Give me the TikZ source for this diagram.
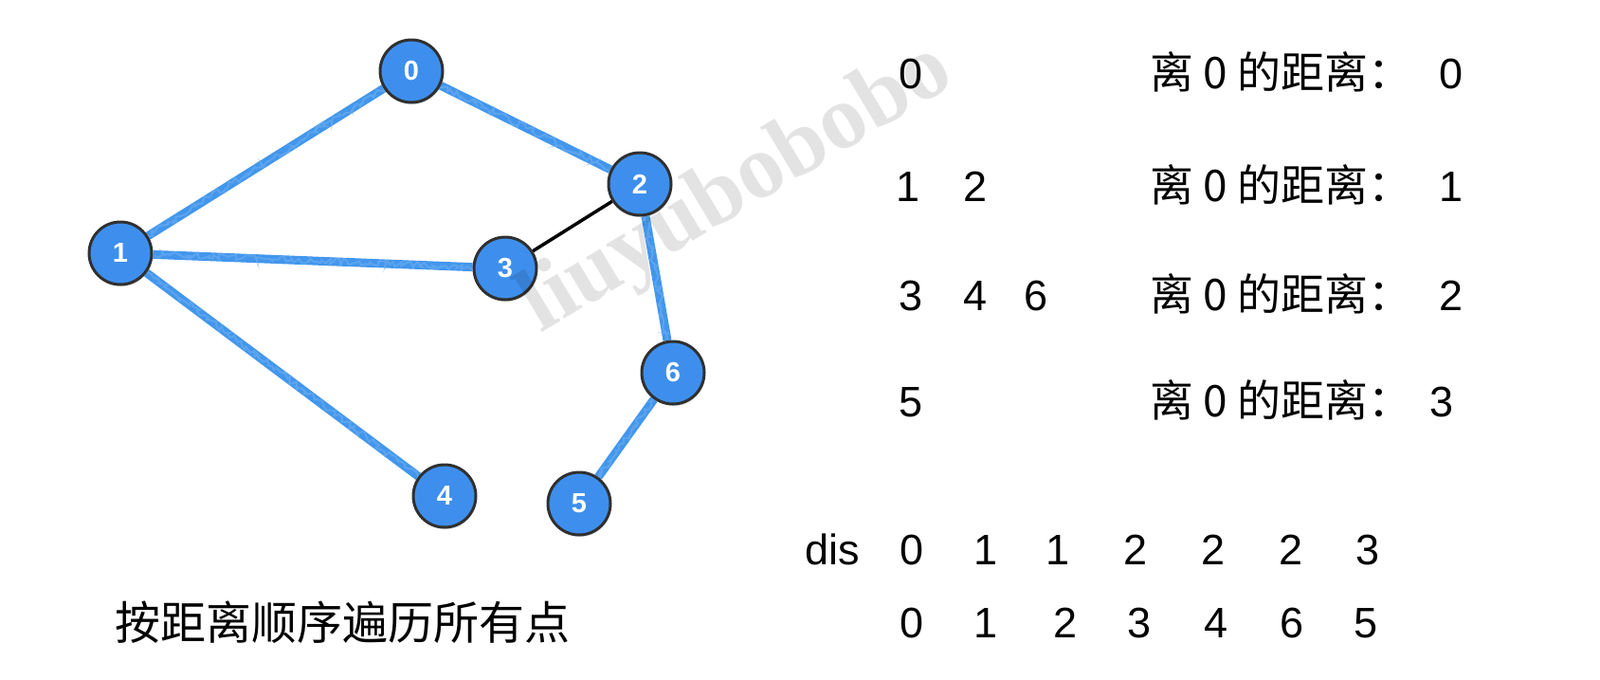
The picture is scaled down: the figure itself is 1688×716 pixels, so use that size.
\documentclass[tikz,border=0pt]{standalone}
\usepackage{fontspec}
\setmainfont{Liberation Sans}
\newfontfamily\cjk{Noto Sans CJK SC}
\newfontfamily\wmfont{Liberation Serif}
\usetikzlibrary{shadows,backgrounds,decorations.pathmorphing}

\definecolor{nodeblue}{RGB}{62,143,237}
\definecolor{edgeblue}{RGB}{66,150,236}
\definecolor{rimgray}{RGB}{48,48,48}

\tikzset{
  vert/.style={circle, minimum size=66pt, inner sep=0pt, fill=nodeblue, draw=rimgray,
    line width=3pt, text=white, font=\fontsize{29}{30}\selectfont\bfseries,
    drop shadow={opacity=0.3, shadow xshift=1pt, shadow yshift=-2pt}},
  tree/.style={draw=edgeblue, line width=9pt},
  treegrain/.style={draw=edgeblue!75!white, line width=2pt, draw opacity=0.55,
    decorate, decoration={random steps, segment length=3pt, amplitude=3.5pt}},
  plainedge/.style={draw=black, line width=3.5pt},
  num/.style={font=\fontsize{45}{50}\selectfont, inner sep=0pt, anchor=base},
  cjkrow/.style={font=\cjk\fontsize{46}{50}\selectfont, inner sep=0pt, anchor=base west},
  cjkcap/.style={font=\cjk\fontsize{48}{52}\selectfont, inner sep=0pt},
  watermark/.style={font=\wmfont\bfseries\fontsize{96}{100}\selectfont, text=black,
    text opacity=0.11, inner sep=0pt, rotate=31},
}

\begin{document}
\begin{tikzpicture}[x=1pt,y=-1pt]
\useasboundingbox (0,0) rectangle (1688,716);

% vertices
\node[vert] (v0) at (434,75)  {0};
\node[vert] (v1) at (127,267) {1};
\node[vert] (v2) at (675,194) {2};
\node[vert] (v3) at (533,283) {3};
\node[vert] (v4) at (469,523) {4};
\node[vert] (v5) at (611,531) {5};
\node[vert] (v6) at (710,393) {6};

\begin{pgfonlayer}{background}
\foreach \a/\b in {v0/v1, v0/v2, v1/v3, v1/v4, v2/v6, v6/v5} {
  \draw[tree] (\a) -- (\b);
  \draw[treegrain] (\a) -- (\b);
}
\draw[plainedge] (v2) -- (v3);
\end{pgfonlayer}

% levels
\node[num] (l0a) at (961,93)  {0};
\node[num] (l1a) at (958,212) {1};
\node[num] (l1b) at (1029,212) {2};
\node[num] (l2a) at (961,327) {3};
\node[num] (l2b) at (1029,327) {4};
\node[num] (l2c) at (1093,327) {6};
\node[num] (l3a) at (961,439) {5};

\node[cjkrow] (d0) at (1213,93)  {离 0 的距离：};
\node[cjkrow] (d1) at (1213,212) {离 0 的距离：};
\node[cjkrow] (d2) at (1213,327) {离 0 的距离：};
\node[cjkrow] (d3) at (1213,439) {离 0 的距离：};
\node[num] (e0) at (1531,93)  {0};
\node[num] (e1) at (1531,212) {1};
\node[num] (e2) at (1531,327) {2};
\node[num] (e3) at (1521,439) {3};

% dis array
\node[num] (dis) at (878,595) {dis};
\node[num] (a0) at (962,595) {0};
\node[num] (a1) at (1040,595) {1};
\node[num] (a2) at (1116,595) {1};
\node[num] (a3) at (1198,595) {2};
\node[num] (a4) at (1280,595) {2};
\node[num] (a5) at (1362,595) {2};
\node[num] (a6) at (1443,595) {3};

\node[num] (b0) at (962,672) {0};
\node[num] (b1) at (1040,672) {1};
\node[num] (b2) at (1124,672) {2};
\node[num] (b3) at (1202,672) {3};
\node[num] (b4) at (1283,672) {4};
\node[num] (b5) at (1363,672) {6};
\node[num] (b6) at (1441,672) {5};

\node[cjkcap] (cap) at (361,656) {按距离顺序遍历所有点};

\node[watermark] (wm) at (778,200) {liuyubobobo};
\end{tikzpicture}
\end{document}
